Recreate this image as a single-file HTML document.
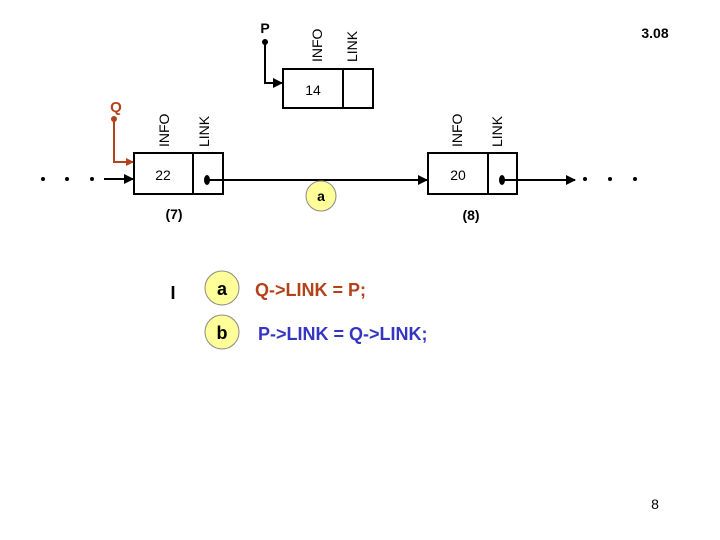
<!DOCTYPE html>
<html><head><meta charset="utf-8"><style>
html,body{margin:0;padding:0;background:#fff;}
svg{display:block;}
text{font-family:"Comic Sans MS","Liberation Sans",sans-serif;}
</style></head><body>
<svg width="720" height="540" viewBox="0 0 720 540" xmlns="http://www.w3.org/2000/svg">
<defs>
<marker id="ab" markerWidth="10" markerHeight="10" refX="9" refY="5" orient="auto" markerUnits="userSpaceOnUse"><path d="M0,0 L10,5 L0,10 z" fill="#000"/></marker>
<marker id="ar" markerWidth="8" markerHeight="8" refX="7" refY="4" orient="auto" markerUnits="userSpaceOnUse"><path d="M0,0 L8,4 L0,8 z" fill="#b3421b"/></marker>
</defs>
<g font-size="14" font-weight="bold">
<text x="655" y="38" text-anchor="middle">3.08</text>
</g>
<!-- node 14 -->
<rect x="283" y="69" width="90" height="39" fill="none" stroke="#000" stroke-width="2"/>
<line x1="343" y1="69" x2="343" y2="108" stroke="#000" stroke-width="2"/>
<text x="313" y="95" font-size="14" text-anchor="middle">14</text>
<text transform="translate(322,62) rotate(-90)" font-size="14">INFO</text>
<text transform="translate(357,62) rotate(-90)" font-size="14">LINK</text>
<text x="265" y="33" font-size="14" font-weight="bold" text-anchor="middle">P</text>
<circle cx="265" cy="42" r="3" fill="#000"/>
<polyline points="265,42 265,83 282,83" fill="none" stroke="#000" stroke-width="2" marker-end="url(#ab)"/>
<!-- node 22 -->
<rect x="134" y="153" width="89" height="41" fill="none" stroke="#000" stroke-width="2"/>
<line x1="193" y1="153" x2="193" y2="194" stroke="#000" stroke-width="2"/>
<text x="163" y="180" font-size="14" text-anchor="middle">22</text>
<text transform="translate(169,147) rotate(-90)" font-size="14">INFO</text>
<text transform="translate(209,147) rotate(-90)" font-size="14">LINK</text>
<text x="116" y="112" font-size="15" font-weight="bold" fill="#b3421b" text-anchor="middle">Q</text>
<circle cx="114" cy="119" r="3" fill="#b3421b"/>
<polyline points="114,119 114,162 133,162" fill="none" stroke="#b3421b" stroke-width="2" marker-end="url(#ar)"/>
<g fill="#000"><circle cx="43" cy="179" r="2"/><circle cx="67" cy="179" r="2"/><circle cx="92" cy="179" r="2"/>
<circle cx="585" cy="179" r="2"/><circle cx="610" cy="179" r="2"/><circle cx="635" cy="179" r="2"/></g>
<line x1="104" y1="179" x2="133" y2="179" stroke="#000" stroke-width="2" marker-end="url(#ab)"/>
<ellipse cx="207" cy="180" rx="3" ry="5" fill="#000"/>
<line x1="207" y1="180" x2="427" y2="180" stroke="#000" stroke-width="2" marker-end="url(#ab)"/>
<text x="174" y="219" font-size="14" font-weight="bold" text-anchor="middle">(7)</text>
<!-- node 20 -->
<rect x="428" y="153" width="89" height="41" fill="none" stroke="#000" stroke-width="2"/>
<line x1="488" y1="153" x2="488" y2="194" stroke="#000" stroke-width="2"/>
<text x="458" y="180" font-size="14" text-anchor="middle">20</text>
<text transform="translate(462,147) rotate(-90)" font-size="14">INFO</text>
<text transform="translate(502,147) rotate(-90)" font-size="14">LINK</text>
<ellipse cx="502" cy="180" rx="3" ry="5" fill="#000"/>
<line x1="502" y1="180" x2="575" y2="180" stroke="#000" stroke-width="2" marker-end="url(#ab)"/>
<text x="471" y="220" font-size="14" font-weight="bold" text-anchor="middle">(8)</text>
<!-- circle a on diagram -->
<circle cx="321" cy="196" r="15" fill="#ffff99" stroke="#888" stroke-width="1"/>
<text x="321" y="201" font-size="14" font-weight="bold" text-anchor="middle">a</text>
<!-- bottom -->
<text x="173" y="299" font-size="18" font-weight="bold" text-anchor="middle">I</text>
<circle cx="222" cy="288" r="17" fill="#ffff99" stroke="#888" stroke-width="1"/>
<text x="222" y="295" font-size="18" font-weight="bold" text-anchor="middle">a</text>
<circle cx="222" cy="332" r="17" fill="#ffff99" stroke="#888" stroke-width="1"/>
<text x="222" y="339" font-size="18" font-weight="bold" text-anchor="middle">b</text>
<text x="255" y="296" font-size="18" font-weight="bold" fill="#b3421b">Q-&gt;LINK = P;</text>
<text x="258" y="340" font-size="18" font-weight="bold" fill="#3535c4">P-&gt;LINK = Q-&gt;LINK;</text>
<text x="655" y="509" font-size="14" text-anchor="middle">8</text>
</svg>
</body></html>
